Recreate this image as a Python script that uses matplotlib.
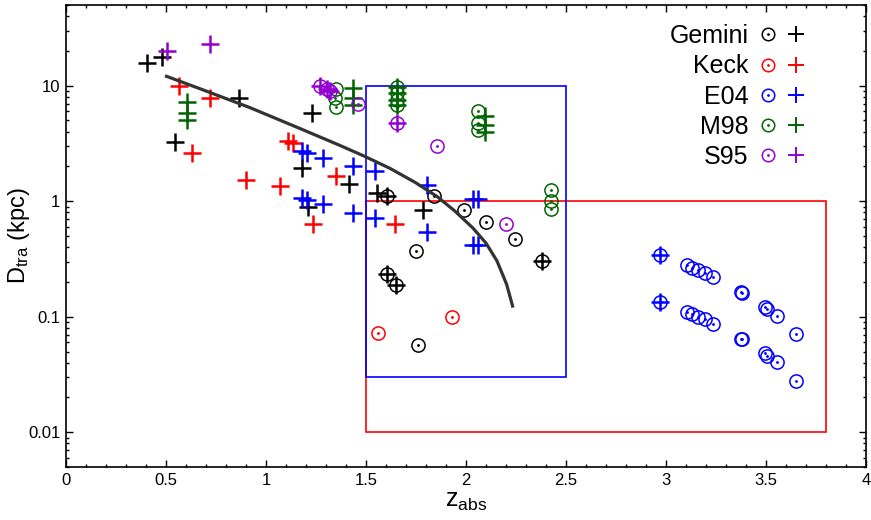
import matplotlib
matplotlib.use("Agg")
import matplotlib.pyplot as plt
from matplotlib.path import Path
from matplotlib.patches import Rectangle
from matplotlib.lines import Line2D
from matplotlib.legend_handler import HandlerTuple
from matplotlib.ticker import MultipleLocator, FixedLocator, FixedFormatter, LogLocator, NullFormatter, FormatStrFormatter

plt.rcParams['font.family'] = ['Liberation Sans', 'DejaVu Sans']
plt.rcParams['mathtext.fontset'] = 'custom'
plt.rcParams['mathtext.rm'] = 'Liberation Sans'
plt.rcParams['mathtext.it'] = 'Liberation Sans:italic'

# ---- Gemini (black) ----
gemini_circ_z = [1.603, 1.842, 1.992, 2.100, 2.245, 2.378, 1.750, 1.603, 1.648, 1.762]
gemini_circ_d = [1.12, 1.10, 0.836, 0.66, 0.468, 0.304, 0.37, 0.236, 0.188, 0.057]
gemini_plus_z = [0.407, 0.479, 0.865, 1.232, 0.545, 1.182, 1.212, 1.416, 1.553, 1.603,
                 1.787, 1.603, 1.648, 2.378]
gemini_plus_d = [15.6, 17.8, 7.9, 5.8, 3.24, 1.94, 0.89, 1.42, 1.17, 1.12,
                 0.84, 0.236, 0.188, 0.304]

# ---- Keck (red) ----
keck_circ_z = [1.928, 1.562]
keck_circ_d = [0.100, 0.073]
keck_plus_z = [0.563, 0.718, 0.632, 0.899, 1.070, 1.112, 1.137, 1.348, 1.233, 1.645]
keck_plus_d = [9.9, 7.85, 2.64, 1.54, 1.35, 3.34, 3.18, 1.66, 0.64, 0.64]

# ---- E04 (blue) ----
e04_circ_z = [2.970, 2.970,
              3.103, 3.128, 3.162, 3.195, 3.237,
              3.103, 3.128, 3.162, 3.195, 3.237,
              3.375, 3.380, 3.375, 3.380,
              3.495, 3.507, 3.553, 3.650,
              3.495, 3.507, 3.553, 3.650]
e04_circ_d = [0.340, 0.135,
              0.279, 0.266, 0.253, 0.241, 0.221,
              0.110, 0.105, 0.100, 0.0955, 0.0865,
              0.163, 0.161, 0.0645, 0.0640,
              0.122, 0.116, 0.102, 0.071,
              0.0483, 0.0461, 0.0404, 0.028]
e04_plus_z = [2.970, 2.970, 1.178, 1.203, 1.287, 1.437, 1.545, 1.178, 1.203, 1.287,
              1.437, 1.545, 1.807, 1.807, 2.037, 2.062, 2.037, 2.062]
e04_plus_d = [0.340, 0.135, 2.74, 2.60, 2.36, 2.03, 1.84, 1.07, 1.03, 0.95,
              0.79, 0.72, 1.37, 0.54, 1.05, 1.05, 0.415, 0.415]

# ---- M98 (green) ----
m98_circ_z = [1.350, 1.345, 1.350, 1.653, 1.653, 1.653, 1.653,
              2.062, 2.062, 2.062, 2.423, 2.423, 2.423]
m98_circ_d = [9.4, 7.8, 6.6, 9.8, 8.6, 7.5, 6.8,
              6.05, 4.8, 4.1, 1.24, 1.0, 0.865]
m98_plus_z = [0.603, 0.603, 0.603, 1.437, 1.437, 1.437, 1.653, 1.653, 1.653, 1.653,
              2.095, 2.095, 2.095]
m98_plus_d = [7.3, 5.77, 5.06, 9.5, 7.8, 6.8, 9.8, 8.6, 7.5, 6.8,
              5.5, 4.58, 3.94]

# ---- S95 (purple) ----
s95_circ_z = [1.270, 1.307, 1.320, 1.462, 1.653, 1.853, 2.198]
s95_circ_d = [10.0, 9.4, 9.0, 7.0, 4.73, 2.98, 0.64]
s95_plus_z = [0.507, 0.720, 1.270, 1.307, 1.320, 1.653]
s95_plus_d = [19.9, 23.2, 10.0, 9.4, 9.0, 4.73]

# ---- model curve ----
curve_z = [0.495, 0.670, 0.920, 1.170, 1.370, 1.495, 1.620, 1.745, 1.855,
           1.945, 2.035, 2.100, 2.155, 2.203, 2.235]
curve_d = [12.2, 9.42, 6.46, 4.26, 3.04, 2.44, 1.925, 1.458, 1.10,
           0.820, 0.585, 0.434, 0.304, 0.191, 0.120]

# ---- selection boxes (z_min, z_max, D_min, D_max) ----
box_e04 = (1.5, 2.5, 0.03, 10.0)
box_keck = (1.5, 3.8, 0.01, 1.0)

survey_names = ['Gemini', 'Keck', 'E04', 'M98', 'S95']
survey_colors = ['#000000', '#ff0000', '#0000ff', '#006400', '#9400d3']
circ_z = [gemini_circ_z, keck_circ_z, e04_circ_z, m98_circ_z, s95_circ_z]
circ_d = [gemini_circ_d, keck_circ_d, e04_circ_d, m98_circ_d, s95_circ_d]
plus_z = [gemini_plus_z, keck_plus_z, e04_plus_z, m98_plus_z, s95_plus_z]
plus_d = [gemini_plus_d, keck_plus_d, e04_plus_d, m98_plus_d, s95_plus_d]

# circle with a central dot
odot = Path.make_compound_path(Path.unit_circle(), Path.circle((0, 0), radius=0.1))

fig = plt.figure(figsize=(8.71, 5.20), dpi=100)
ax = fig.add_axes([66 / 871, 1 - 467 / 520, 800 / 871, 462 / 520])
ax.set_yscale('log')
ax.set_xlim(0, 4)
ax.set_ylim(0.005, 50)

for (z0, z1, d0, d1), col in [(box_keck, '#ff0000'), (box_e04, '#0000ff')]:
    ax.add_patch(Rectangle((z0, d0), z1 - z0, d1 - d0, fill=False,
                           edgecolor=col, lw=1.2, zorder=1))

handles = []
for name, col, cz, cd, pz, pd in zip(survey_names, survey_colors, circ_z, circ_d, plus_z, plus_d):
    ax.plot(cz, cd, ls='none', marker=odot, ms=9.5, mfc='none', mec=col, mew=1.1, zorder=3)
    ax.plot(pz, pd, ls='none', marker='+', ms=13, mec=col, mew=1.8, zorder=3)
    h1 = Line2D([], [], ls='none', marker=odot, ms=9, mfc='none', mec=col, mew=1.1)
    h2 = Line2D([], [], ls='none', marker='+', ms=11, mec=col, mew=1.4)
    handles.append((h1, h2))

ax.plot(curve_z, curve_d, color='#333333', lw=2.3, zorder=5, solid_capstyle='butt',
        solid_joinstyle='round')

ax.legend(handles, survey_names, handler_map={tuple: HandlerTuple(ndivide=None, pad=0)},
          markerfirst=False, frameon=False, loc='upper right',
          bbox_to_anchor=(0.9295, 0.9585), fontsize=18, handlelength=2.2,
          handletextpad=0.25, labelspacing=0.25, borderpad=0, borderaxespad=0)

ax.xaxis.set_major_locator(MultipleLocator(0.5))
ax.xaxis.set_minor_locator(MultipleLocator(0.1))
ax.xaxis.set_major_formatter(FormatStrFormatter('%g'))
ax.yaxis.set_major_locator(FixedLocator([0.01, 0.1, 1, 10]))
ax.yaxis.set_major_formatter(FixedFormatter(['0.01', '0.1', '1', '10']))
ax.yaxis.set_minor_locator(LogLocator(base=10, subs=(2, 3, 4, 5, 6, 7, 8, 9)))
ax.yaxis.set_minor_formatter(NullFormatter())
ax.tick_params(which='both', direction='in', top=True, right=True, labelsize=12, width=1)
ax.tick_params(which='major', length=5, pad=4)
ax.tick_params(which='minor', length=2.5)
for s in ax.spines.values():
    s.set_linewidth(1.2)

ax.set_xlabel(r'$\mathrm{z_{abs}}$', fontsize=18, labelpad=1)
ax.set_ylabel(r'$\mathrm{D_{tra}}$ (kpc)', fontsize=17)
ax.yaxis.set_label_coords(-0.042, 0.5)

fig.savefig('out.png', dpi=100)
